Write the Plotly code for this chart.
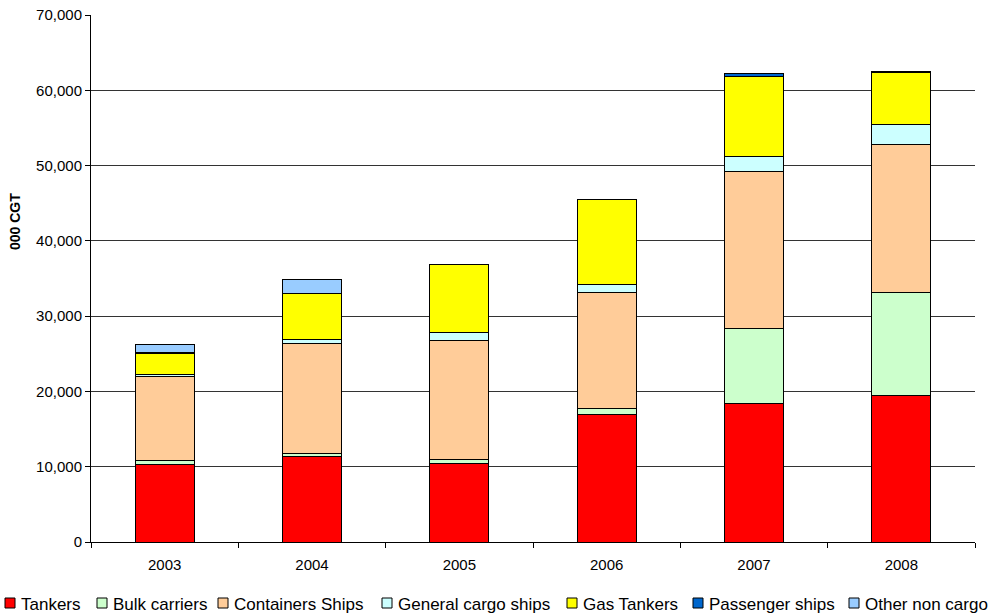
import plotly.graph_objects as go

# Newbuilding completions by ship type, thousand CGT
years = ["2003", "2004", "2005", "2006", "2007", "2008"]
tankers = [10250, 11300, 10450, 17000, 18400, 19500]
bulk_carriers = [550, 400, 550, 700, 10000, 13650]
container_ships = [11150, 14700, 15800, 15500, 20800, 19600]
general_cargo = [250, 500, 1000, 1000, 2000, 2650]
gas_tankers = [2900, 6100, 9000, 11300, 10600, 7000]
passenger_ships = [100, 0, 0, 0, 400, 100]
other_non_cargo = [1000, 1850, 0, 0, 0, 0]

series_names = ["Tankers", "Bulk carriers", "Containers Ships", "General cargo ships",
                "Gas Tankers", "Passenger ships", "Other non cargo"]
series_values = [tankers, bulk_carriers, container_ships, general_cargo,
                 gas_tankers, passenger_ships, other_non_cargo]
series_colors = ["#FF0000", "#CCFFCC", "#FFCC99", "#CCFFFF",
                 "#FFFF00", "#0066CC", "#99CCFF"]

y_ticks = list(range(0, 70001, 10000))

W, H = 998, 613
L, R, T, B = 91, 23, 15, 71
plot_w, plot_h = W - L - R, H - T - B

fig = go.Figure()
for name, vals, col in zip(series_names, series_values, series_colors):
    fig.add_trace(go.Bar(
        x=years, y=vals, name=name,
        marker=dict(color=col, line=dict(color="#000000", width=1)),
        showlegend=False,
    ))


def px_x(px):
    return (px - L) / plot_w


def px_y(py):
    return (H - B - py) / plot_h


# Legend drawn along the bottom: small framed squares followed by labels
legend_sym_left = [5, 97, 218, 382, 567, 693, 849]
shapes = []
annotations = []
for name, col, sx in zip(series_names, series_colors, legend_sym_left):
    shapes.append(dict(
        type="rect", xref="paper", yref="paper",
        x0=px_x(sx), x1=px_x(sx + 10), y0=px_y(608), y1=px_y(598),
        fillcolor=col, line=dict(color="#000000", width=1),
    ))
    annotations.append(dict(
        text=name, xref="paper", yref="paper",
        x=px_x(sx + 14), y=px_y(604), xanchor="left", yanchor="middle",
        showarrow=False, font=dict(family="Liberation Sans, Arial, sans-serif",
                                   size=17, color="#000000"),
    ))

annotations.append(dict(
    text="<b>000 CGT</b>", xref="paper", yref="paper",
    x=px_x(15), y=px_y(222), xanchor="center", yanchor="middle",
    textangle=-90, showarrow=False,
    font=dict(family="Liberation Sans, Arial, sans-serif", size=14, color="#000000"),
))

fig.update_layout(
    width=W, height=H,
    margin=dict(l=L, r=R, t=T, b=B, pad=0, autoexpand=False),
    barmode="stack",
    bargap=0.6,
    plot_bgcolor="#FFFFFF",
    paper_bgcolor="#FFFFFF",
    font=dict(family="Liberation Sans, Arial, sans-serif", size=15, color="#000000"),
    shapes=shapes,
    annotations=annotations,
)
fig.update_xaxes(
    type="category",
    automargin=False,
    showline=True, linecolor="#000000", linewidth=1,
    ticks="outside", tickson="boundaries", ticklen=5, tickcolor="#000000",
    ticklabelstandoff=9,
    showgrid=False,
    tickfont=dict(size=15),
)
fig.update_yaxes(
    automargin=False,
    range=[0, 70000],
    tickvals=y_ticks,
    tickformat=",d",
    showline=True, linecolor="#000000", linewidth=1,
    ticks="outside", ticklen=5, tickcolor="#000000",
    showgrid=True, gridcolor="#333333", gridwidth=1,
    zeroline=False,
    tickfont=dict(size=15),
)

fig.write_html("out.html")
